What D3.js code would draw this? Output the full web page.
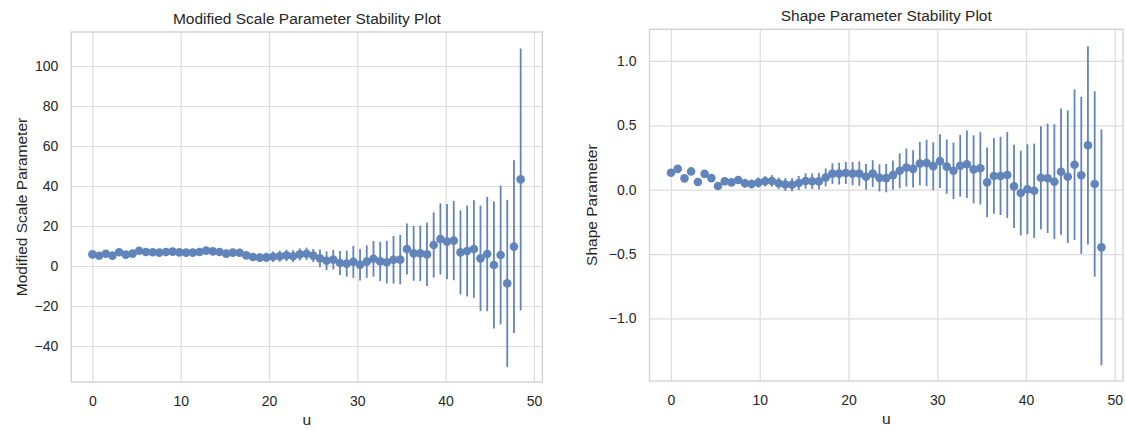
<!DOCTYPE html>
<html>
<head>
<meta charset="utf-8">
<script src="https://cdn.jsdelivr.net/npm/d3@7"></script>
<style>
  html, body { margin: 0; padding: 0; background: #ffffff; }
  svg { display: block; font-family: Arial, "Liberation Sans", sans-serif; }
</style>
</head>
<body>
<svg id="chart" width="1126" height="430"></svg>
<script>
// ---- data ----
const thresholds = [0,0.76,1.52,2.27,3.03,3.79,4.55,5.30,6.06,6.82,7.58,8.34,9.09,9.85,10.61,11.37,12.13,12.88,13.64,14.40,15.16,15.91,16.67,17.43,18.19,18.95,19.70,20.46,21.22,21.98,22.73,23.49,24.25,25.01,25.77,26.52,27.28,28.04,28.80,29.55,30.31,31.07,31.83,32.59,33.34,34.10,34.86,35.62,36.38,37.13,37.89,38.65,39.41,40.16,40.92,41.68,42.44,43.20,43.95,44.71,45.47,46.23,46.98,47.74,48.50];

const scaleValues = [5.8,5.1,6.1,5.2,6.9,5.7,6.2,7.6,7.0,6.9,
  6.7,7.0,7.2,6.8,6.7,6.7,7.0,7.7,7.3,7.0,
  6.2,6.7,6.6,5.3,4.5,4.2,4.3,4.6,4.9,5.3,
  4.9,5.8,6.1,5.2,3.8,2.6,3.2,1.5,1.2,2.1,
  0.6,2.2,3.6,2.3,1.9,3.1,3.2,8.5,6.3,6.3,
  5.8,10.5,13.5,12.2,12.7,6.8,7.5,8.5,3.8,6.0,
  0.5,5.5,-8.7,9.7,43.3];
const scaleErrors = [1.0,1.0,1.0,1.0,1.0,1.0,1.0,1.0,1.0,1.0,
  1.0,1.0,1.0,1.0,1.0,1.0,1.0,1.0,1.0,1.0,
  1.3,1.5,1.6,1.8,2.0,2.2,2.4,2.6,2.8,2.9,
  3.0,3.0,3.1,3.3,4.4,4.7,4.9,6.0,6.5,8.0,
  7.9,8.1,8.9,9.8,10.6,11.9,12.3,12.8,13.7,13.9,
  15.8,16.3,17.8,18.8,19.8,21.0,22.7,24.4,26.4,28.6,
  31.7,34.7,41.8,43.2,65.5];

const shapeValues = [0.132,0.162,0.088,0.142,0.060,0.123,0.090,0.029,0.065,0.057,
  0.075,0.050,0.044,0.055,0.065,0.068,0.050,0.040,0.038,0.052,
  0.068,0.066,0.066,0.095,0.125,0.125,0.130,0.125,0.125,0.100,
  0.125,0.092,0.090,0.113,0.147,0.172,0.162,0.203,0.208,0.183,
  0.222,0.179,0.147,0.186,0.198,0.158,0.166,0.057,0.107,0.107,
  0.114,0.026,-0.026,0.003,-0.008,0.093,0.089,0.062,0.140,0.101,
  0.194,0.112,0.345,0.044,-0.448];
const shapeErrors = [0.02,0.02,0.02,0.02,0.02,0.02,0.02,0.02,0.025,0.025,
  0.03,0.035,0.035,0.04,0.04,0.045,0.045,0.05,0.05,0.055,
  0.06,0.06,0.065,0.07,0.08,0.085,0.085,0.09,0.095,0.10,
  0.104,0.105,0.11,0.114,0.136,0.148,0.145,0.168,0.18,0.185,
  0.208,0.21,0.22,0.24,0.262,0.264,0.281,0.27,0.294,0.304,
  0.333,0.324,0.329,0.349,0.366,0.40,0.425,0.446,0.49,0.515,
  0.585,0.61,0.77,0.72,0.916];

const xTicks = [0,10,20,30,40,50];
const scaleTicks = [-40,-20,0,20,40,60,80,100];
const shapeTicks = [-1.0,-0.5,0.0,0.5,1.0];

// ---- style ----
const markColor = "#6184bb";
const gridColor = "#dcdcdc";
const spineColor = "#d2d2d2";
const textColor = "#262626";

const svg = d3.select("#chart");

function panel(cfg) {
  const g = svg.append("g");
  const x = d3.scaleLinear().domain(cfg.xDomain).range([cfg.left, cfg.right]);
  const y = d3.scaleLinear().domain(cfg.yDomain).range([cfg.bottom, cfg.top]);
  const h = cfg.bottom - cfg.top, w = cfg.right - cfg.left;

  // grid
  g.append("g").attr("transform", `translate(0,${cfg.bottom})`)
    .call(d3.axisBottom(x).tickValues(xTicks).tickSize(-h).tickFormat(""))
    .call(a => a.select(".domain").remove())
    .call(a => a.selectAll("line").attr("stroke", gridColor).attr("stroke-width", 1.2));
  g.append("g").attr("transform", `translate(${cfg.left},0)`)
    .call(d3.axisLeft(y).tickValues(cfg.yTicks).tickSize(-w).tickFormat(""))
    .call(a => a.select(".domain").remove())
    .call(a => a.selectAll("line").attr("stroke", gridColor).attr("stroke-width", 1.2));

  // tick labels
  g.append("g").attr("transform", `translate(0,${cfg.bottom})`)
    .call(d3.axisBottom(x).tickValues(xTicks).tickSize(0).tickPadding(14).tickFormat(d3.format("d")))
    .call(a => a.select(".domain").remove())
    .call(a => a.selectAll("text").attr("fill", textColor).style("font-size", "14px")
      .style("font-family", "Arial, 'Liberation Sans', sans-serif"));
  g.append("g").attr("transform", `translate(${cfg.left},0)`)
    .call(d3.axisLeft(y).tickValues(cfg.yTicks).tickSize(0).tickPadding(cfg.yPad).tickFormat(cfg.yFormat))
    .call(a => a.select(".domain").remove())
    .call(a => a.selectAll("text").attr("fill", textColor).style("font-size", "14px")
      .style("font-family", "Arial, 'Liberation Sans', sans-serif"));

  // spines
  g.append("rect").attr("x", cfg.left).attr("y", cfg.top).attr("width", w).attr("height", h)
    .attr("fill", "none").attr("stroke", spineColor).attr("stroke-width", 1.4);

  // error bars
  const data = thresholds.map((u, i) => ({u, v: cfg.values[i], e: cfg.errors[i]}));
  g.append("g").selectAll("line").data(data).join("line")
    .attr("x1", d => x(d.u)).attr("x2", d => x(d.u))
    .attr("y1", d => y(d.v - d.e)).attr("y2", d => y(d.v + d.e))
    .attr("stroke", markColor).attr("stroke-width", 1.8);
  // points
  g.append("g").selectAll("circle").data(data).join("circle")
    .attr("cx", d => x(d.u)).attr("cy", d => y(d.v)).attr("r", 4.3)
    .attr("fill", markColor);

  // titles and labels
  g.append("text").attr("x", (cfg.left + cfg.right) / 2).attr("y", cfg.titleY)
    .attr("text-anchor", "middle").attr("fill", textColor).style("font-size", "15.5px")
    .text(cfg.title);
  g.append("text").attr("x", (cfg.left + cfg.right) / 2).attr("y", cfg.xLabelY)
    .attr("text-anchor", "middle").attr("fill", textColor).style("font-size", "15.5px")
    .text("u");
  g.append("text")
    .attr("transform", `translate(${cfg.yLabelX},${(cfg.top + cfg.bottom) / 2}) rotate(-90)`)
    .attr("text-anchor", "middle").attr("fill", textColor).style("font-size", "15.5px")
    .text(cfg.yLabel);
}

panel({
  left: 71.3, right: 542.4, top: 32, bottom: 382,
  xDomain: [-2.39, 50.96], yDomain: [-58, 117],
  yTicks: scaleTicks, yFormat: d3.format("d"), yPad: 13,
  values: scaleValues, errors: scaleErrors,
  title: "Modified Scale Parameter Stability Plot", titleY: 24,
  xLabelY: 425, yLabelX: 26.5, yLabel: "Modified Scale Parameter"
});

panel({
  left: 649.5, right: 1123, top: 29.3, bottom: 381,
  xDomain: [-2.42, 50.93], yDomain: [-1.486, 1.246],
  yTicks: shapeTicks, yFormat: d3.format(".1f"), yPad: 13,
  values: shapeValues, errors: shapeErrors,
  title: "Shape Parameter Stability Plot", titleY: 21,
  xLabelY: 424, yLabelX: 597, yLabel: "Shape Parameter"
});
</script>
</body>
</html>
